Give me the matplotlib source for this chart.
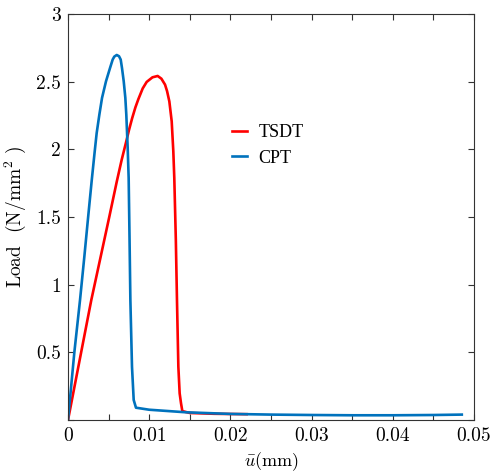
import matplotlib
matplotlib.use("Agg")
import matplotlib.pyplot as plt
from matplotlib.ticker import MultipleLocator, FuncFormatter

plt.rcParams['font.family'] = 'serif'
plt.rcParams['font.serif'] = ['cmr10']
plt.rcParams['mathtext.fontset'] = 'cm'
plt.rcParams['axes.unicode_minus'] = False

# CPT curve (blue)
cpt_u = [0.0, 0.00078, 0.00148, 0.00200, 0.00248, 0.00292, 0.00328, 0.00353, 0.00386,
         0.00419, 0.00468, 0.00517, 0.00550, 0.00570, 0.00600, 0.00628, 0.00649,
         0.00665, 0.00686, 0.00706, 0.00718, 0.00735, 0.00747, 0.00758, 0.00768,
         0.00788, 0.00809, 0.00837, 0.0100, 0.01453, 0.0200, 0.0250,
         0.0300, 0.0350, 0.0400, 0.0450, 0.0485]
cpt_load = [0.0, 0.50, 0.887, 1.20, 1.50, 1.77, 1.98, 2.12, 2.256,
            2.38, 2.503, 2.60, 2.663, 2.685, 2.697, 2.688, 2.663,
            2.60, 2.503, 2.38, 2.256, 2.01, 1.788, 1.33, 0.887,
            0.394, 0.148, 0.091, 0.076, 0.057, 0.045, 0.040,
            0.037, 0.035, 0.035, 0.037, 0.040]

# TSDT curve (red)
tsdt_u = [0.0, 0.00287, 0.00508, 0.00600, 0.00660, 0.00714, 0.00750, 0.00790,
          0.00830, 0.00866, 0.00920, 0.00969, 0.01040, 0.01104, 0.01150, 0.01195,
          0.01220, 0.01248, 0.01277, 0.01297, 0.01309, 0.01328, 0.01342, 0.01359,
          0.01375, 0.01392, 0.01408, 0.0150, 0.0180, 0.0220]
tsdt_load = [0.0, 0.887, 1.50, 1.76, 1.92, 2.05, 2.14, 2.23,
             2.31, 2.37, 2.45, 2.498, 2.532, 2.542, 2.522, 2.478,
             2.43, 2.354, 2.207, 1.985, 1.788, 1.33, 0.887, 0.394,
             0.197, 0.123, 0.066, 0.052, 0.046, 0.043]

fig = plt.figure(figsize=(4.9, 4.74), dpi=100)
ax = fig.add_axes([0.1388, 0.1139, 0.8285, 0.8566])

ax.plot(tsdt_u, tsdt_load, color='#FF0000', lw=1.9, label='TSDT',
        solid_joinstyle='round')
ax.plot(cpt_u, cpt_load, color='#0072BD', lw=1.9, label='CPT',
        solid_joinstyle='round')

ax.set_xlim(0, 0.05)
ax.set_ylim(0, 3)
ax.xaxis.set_major_locator(MultipleLocator(0.01))
ax.xaxis.set_minor_locator(MultipleLocator(0.005))
ax.yaxis.set_major_locator(MultipleLocator(0.5))

def xfmt(v, pos):
    if abs(v) < 1e-12:
        return '0'
    return ('%.2f' % v)

def yfmt(v, pos):
    if abs(v) < 1e-12:
        return ''
    s = ('%.1f' % v)
    if s.endswith('.0'):
        s = s[:-2]
    return s

ax.xaxis.set_major_formatter(FuncFormatter(xfmt))
ax.yaxis.set_major_formatter(FuncFormatter(yfmt))
ax.tick_params(which='both', direction='in', top=True, right=True, length=4,
               width=0.8, labelsize=14, pad=5, color='#333333')
for s in ax.spines.values():
    s.set_linewidth(0.8)
    s.set_color('#333333')

ax.set_xlabel(r'$\bar{u}$(mm)', fontsize=13, labelpad=4)
ax.set_ylabel(r'Load  (N/mm$^2$ )', fontsize=14, labelpad=6)

leg = ax.legend(loc='upper left', bbox_to_anchor=(0.405, 0.728), frameon=False,
                borderpad=0, borderaxespad=0,
                handlelength=0.8, handletextpad=0.65, labelspacing=0.45,
                prop={'family': 'Liberation Serif', 'size': 13})

fig.savefig('out.png', dpi=100)
